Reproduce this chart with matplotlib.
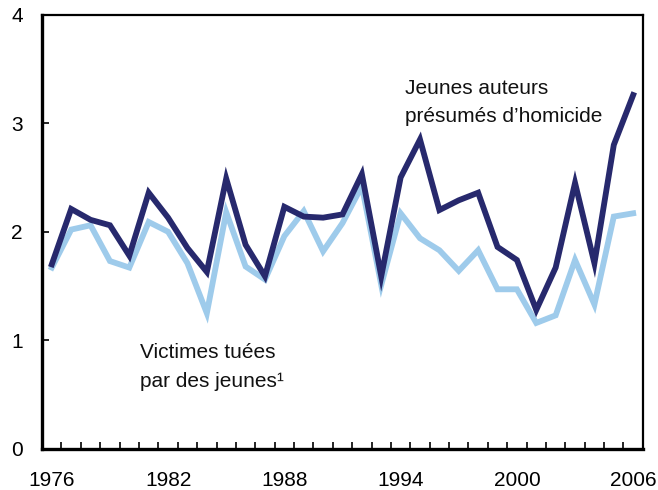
import numpy as np
import matplotlib.pyplot as plt
from matplotlib.ticker import FixedLocator

plt.rcParams['font.family'] = ['Liberation Sans', 'DejaVu Sans']

years = list(range(1976, 2007))
auteurs = [1.70, 2.21, 2.11, 2.06, 1.78, 2.36, 2.13, 1.85, 1.63, 2.49,
           1.88, 1.59, 2.23, 2.14, 2.13, 2.16, 2.53, 1.59, 2.50, 2.85,
           2.20, 2.29, 2.36, 1.86, 1.74, 1.28, 1.67, 2.45, 1.71, 2.80, 3.26]
victimes = [1.67, 2.02, 2.06, 1.73, 1.67, 2.09, 2.00, 1.71, 1.25, 2.18,
            1.68, 1.56, 1.96, 2.19, 1.82, 2.08, 2.42, 1.51, 2.17, 1.94,
            1.83, 1.64, 1.83, 1.47, 1.47, 1.16, 1.23, 1.74, 1.33, 2.14, 2.17]
label_years = [1976, 1982, 1988, 1994, 2000, 2006]

dark = '#27296d'
light = '#9ecbeb'

fig = plt.figure(figsize=(6.58, 4.90), dpi=100)
ax = fig.add_axes([0.064, 0.084, 0.913, 0.886])

ax.plot(years, victimes, color=light, lw=4.2, solid_joinstyle='miter', zorder=2)
ax.plot(years, auteurs, color=dark, lw=4.2, solid_joinstyle='miter', zorder=3)

ax.set_xlim(1975.5, 2006.5)
ax.set_ylim(0, 4)

ax.set_xticks(label_years)
ax.set_xticklabels([str(y) for y in label_years])
ax.xaxis.set_minor_locator(FixedLocator(np.arange(1976.5, 2006, 1)))
ax.tick_params(axis='x', which='major', length=0, pad=16, labelsize=15)
ax.tick_params(axis='x', which='minor', direction='in', length=5, width=1.2)

ax.set_yticks([0, 1, 2, 3, 4])
ax.tick_params(axis='y', direction='in', length=5, width=1.2, pad=14, labelsize=15)

for side in ['left', 'bottom']:
    ax.spines[side].set_linewidth(2.4)
for side in ['top', 'right']:
    ax.spines[side].set_linewidth(1.6)

txt = dict(fontsize=15, color='#111111', ha='left', va='baseline')
ax.text(1994.2, 3.27, 'Jeunes auteurs', **txt)
ax.text(1994.2, 3.01, 'présumés d\u2019homicide', **txt)
ax.text(1980.55, 0.84, 'Victimes tuées', **txt)
ax.text(1980.55, 0.57, 'par des jeunes\u00b9', **txt)

fig.savefig('out.png', dpi=100)
